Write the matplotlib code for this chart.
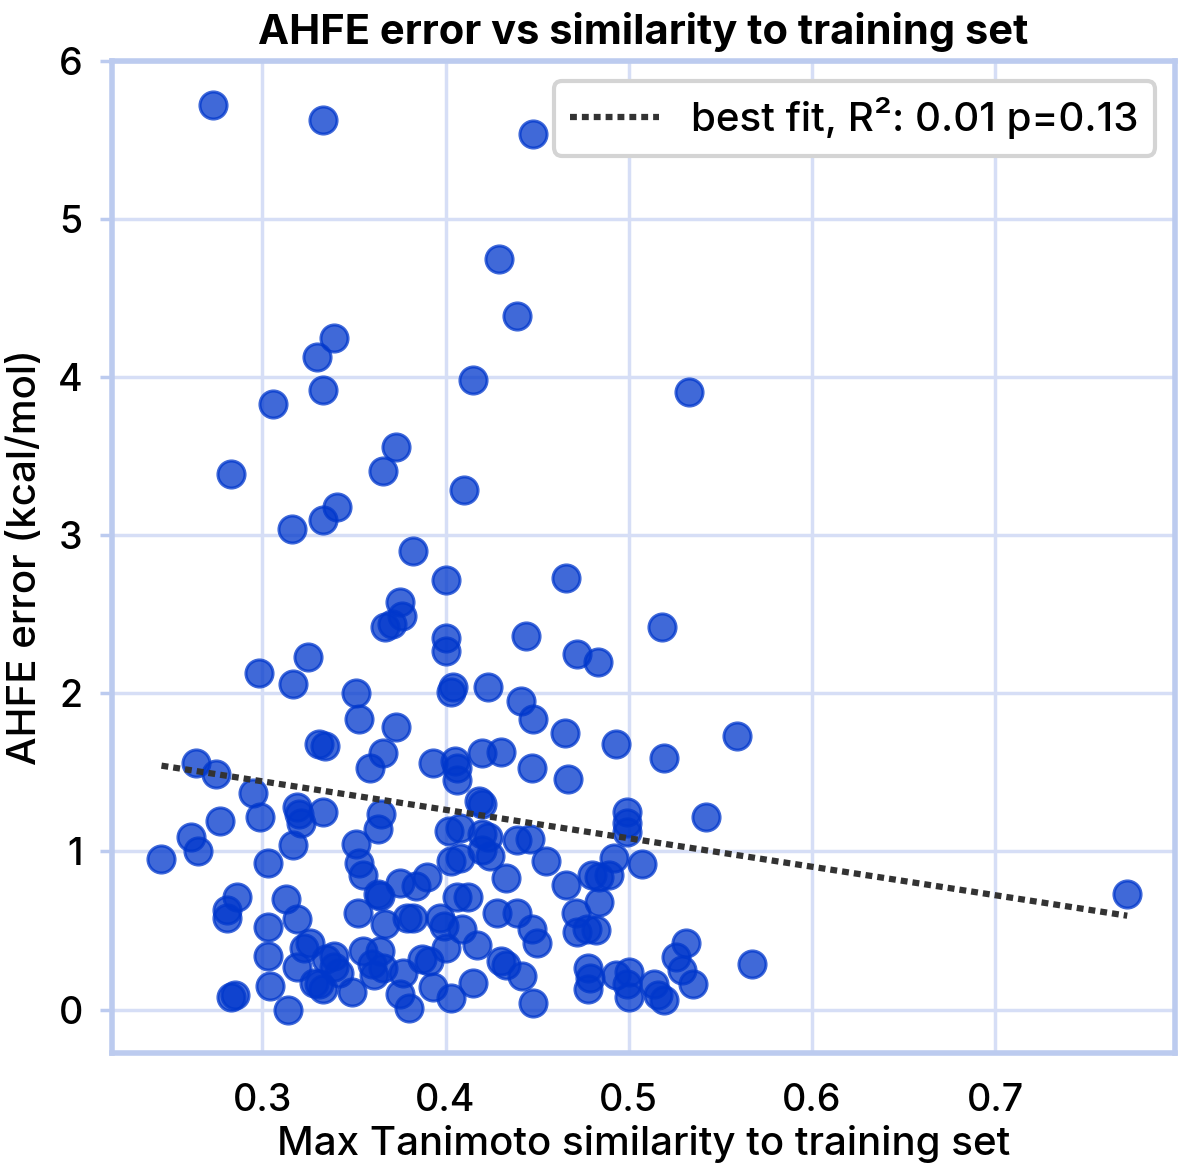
"""
AHFE error vs max Tanimoto similarity to the training set, with a linear fit.
"""
import numpy as np
import matplotlib
matplotlib.use("Agg")
import matplotlib.pyplot as plt

# max Tanimoto similarity of each test molecule to the training set
similarity = [
    0.273, 0.333, 0.448, 0.429, 0.439, 0.339, 0.330, 0.415, 0.533, 0.333,
    0.306, 0.373, 0.366, 0.283, 0.410, 0.341, 0.333, 0.316, 0.382, 0.400,
    0.466, 0.375, 0.376, 0.367, 0.371, 0.518, 0.444, 0.400, 0.400, 0.472,
    0.483, 0.298, 0.325, 0.317, 0.423, 0.404, 0.403, 0.351, 0.441, 0.353,
    0.448, 0.373, 0.559, 0.465, 0.493, 0.331, 0.334, 0.366, 0.420, 0.430,
    0.519, 0.393, 0.405, 0.406, 0.406, 0.447, 0.467, 0.359, 0.264, 0.275,
    0.295, 0.418, 0.420, 0.299, 0.319, 0.320, 0.321, 0.333, 0.365, 0.363,
    0.402, 0.408, 0.420, 0.317, 0.351, 0.277, 0.261, 0.265, 0.245, 0.303,
    0.353, 0.355, 0.403, 0.408, 0.420, 0.424, 0.363, 0.364, 0.375, 0.384,
    0.390, 0.286, 0.281, 0.281, 0.313, 0.319, 0.303, 0.352, 0.367, 0.379,
    0.382, 0.397, 0.399, 0.406, 0.412, 0.409, 0.428, 0.439, 0.303, 0.323,
    0.326, 0.319, 0.335, 0.339, 0.342, 0.355, 0.364, 0.360, 0.361, 0.366,
    0.387, 0.391, 0.400, 0.417, 0.304, 0.328, 0.333, 0.331, 0.349, 0.377,
    0.375, 0.380, 0.393, 0.403, 0.415, 0.283, 0.285, 0.314, 0.430, 0.433,
    0.442, 0.448, 0.450, 0.447, 0.433, 0.455, 0.439, 0.446, 0.423, 0.499,
    0.499, 0.499, 0.542, 0.492, 0.507, 0.480, 0.484, 0.489, 0.466, 0.484,
    0.471, 0.472, 0.477, 0.482, 0.478, 0.479, 0.478, 0.493, 0.500, 0.499,
    0.500, 0.514, 0.516, 0.519, 0.531, 0.526, 0.529, 0.535, 0.567, 0.772,
    0.339,
]

# absolute hydration free energy error (kcal/mol)
ahfe_error = [
    5.72, 5.63, 5.54, 4.75, 4.39, 4.25, 4.13, 3.98, 3.91, 3.92,
    3.83, 3.56, 3.41, 3.39, 3.29, 3.18, 3.10, 3.04, 2.90, 2.72,
    2.73, 2.58, 2.49, 2.42, 2.44, 2.42, 2.36, 2.35, 2.27, 2.25,
    2.20, 2.13, 2.23, 2.06, 2.04, 2.04, 2.01, 2.00, 1.95, 1.84,
    1.84, 1.79, 1.73, 1.75, 1.68, 1.68, 1.67, 1.62, 1.62, 1.63,
    1.59, 1.56, 1.57, 1.53, 1.45, 1.53, 1.46, 1.53, 1.56, 1.49,
    1.37, 1.32, 1.30, 1.22, 1.28, 1.24, 1.18, 1.25, 1.24, 1.14,
    1.13, 1.15, 1.11, 1.04, 1.05, 1.19, 1.09, 1.00, 0.95, 0.93,
    0.93, 0.85, 0.94, 0.96, 1.01, 0.97, 0.73, 0.72, 0.80, 0.78,
    0.84, 0.71, 0.63, 0.58, 0.70, 0.57, 0.52, 0.61, 0.54, 0.58,
    0.58, 0.58, 0.53, 0.71, 0.71, 0.51, 0.61, 0.61, 0.34, 0.39,
    0.42, 0.27, 0.32, 0.34, 0.23, 0.37, 0.37, 0.29, 0.22, 0.26,
    0.32, 0.31, 0.39, 0.41, 0.15, 0.17, 0.13, 0.16, 0.11, 0.23,
    0.10, 0.01, 0.14, 0.07, 0.17, 0.08, 0.09, 0.00, 0.31, 0.28,
    0.21, 0.04, 0.42, 0.51, 0.83, 0.94, 1.07, 1.08, 1.09, 1.25,
    1.18, 1.12, 1.22, 0.96, 0.92, 0.85, 0.84, 0.85, 0.79, 0.68,
    0.61, 0.49, 0.51, 0.50, 0.26, 0.20, 0.13, 0.22, 0.24, 0.16,
    0.08, 0.16, 0.09, 0.06, 0.42, 0.33, 0.25, 0.16, 0.29, 0.73,
    0.27,
]

fit_label = "best fit, R²: 0.01 p=0.13"

SPINE = "#bccbef"
GRID = "#d6def6"
BLUE = "#0037cc"

plt.rcParams["font.family"] = ["Inter", "DejaVu Sans"]

x = np.array(similarity)
y = np.array(ahfe_error)
slope, intercept = np.polyfit(x, y, 1)
xs = np.array([x.min(), x.max()])

fig = plt.figure(figsize=(11.79, 11.76), dpi=100)
ax = fig.add_axes([0.095, 0.105, 0.9015, 0.843])

ax.scatter(x, y, s=380, color=BLUE, alpha=0.75, linewidths=2.2,
           edgecolors=BLUE, zorder=3)
ax.plot(xs, slope * xs + intercept, linestyle=(0, (1.1, 0.8)),
        color="#333333", lw=4.5, label=fit_label, zorder=4)

ax.set_xlim(0.218, 0.798)
ax.set_ylim(-0.272, 6.0)
ax.set_xticks([0.3, 0.4, 0.5, 0.6, 0.7])
ax.set_yticks([0, 1, 2, 3, 4, 5, 6])
ax.grid(True, color=GRID, lw=2.5, zorder=0)
ax.set_axisbelow(True)
for s in ax.spines.values():
    s.set_color(SPINE); s.set_linewidth(4)
ax.tick_params(axis="both", colors=SPINE, labelcolor="black", labelsize=27,
               length=9, width=2.5)
for lab in ax.get_xticklabels() + ax.get_yticklabels():
    lab.set_fontweight("medium")
ax.tick_params(axis="x", length=0, pad=22)
ax.tick_params(axis="y", pad=12)

ax.set_xlabel("Max Tanimoto similarity to training set", fontsize=29,
              fontweight="medium", labelpad=4)
ax.set_ylabel("AHFE error (kcal/mol)", fontsize=29, fontweight="medium",
              labelpad=10)
ax.set_title("AHFE error vs similarity to training set", fontsize=30,
             fontweight="bold", pad=12)

leg = ax.legend(loc="upper right", fontsize=29, handlelength=2.2,
                borderpad=0.4, handletextpad=0.8, fancybox=True,
                framealpha=1.0, borderaxespad=0.5)
leg.get_frame().set_edgecolor("#d4d4d4")
leg.get_frame().set_linewidth(3)
leg.get_texts()[0].set_fontweight("medium")

fig.savefig("out.png", dpi=100)
